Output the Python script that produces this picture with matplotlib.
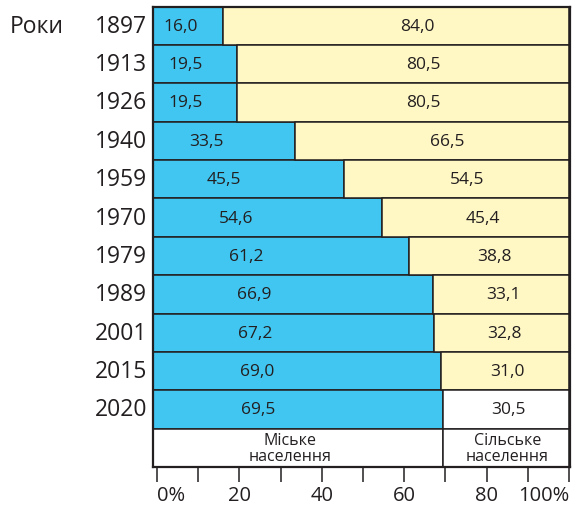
import matplotlib
matplotlib.use('Agg')
import matplotlib.pyplot as plt
import numpy as np

# дані: частка міського / сільського населення, %
years = ['1897', '1913', '1926', '1940', '1959', '1970', '1979', '1989', '2001', '2015', '2020']
urban = [16.0, 19.5, 19.5, 33.5, 45.5, 54.6, 61.2, 66.9, 67.2, 69.0, 69.5]
rural = [84.0, 80.5, 80.5, 66.5, 54.5, 45.4, 38.8, 33.1, 32.8, 31.0, 30.5]
legend_labels = ['Міське\nнаселення', 'Сільське\nнаселення']
x_major = [0, 20, 40, 60, 80, 100]
x_major_labels = ['0%', '20', '40', '60', '80', '100%']
x_minor = [10, 30, 50, 70, 90]

plt.rcParams['font.family'] = ['Open Sans', 'DejaVu Sans']

BLUE = '#40C6F1'
YELLOW = '#FFF7C4'
DARK = '#231F20'
XMIN, XMAX = -0.97, 100.24

fig = plt.figure(figsize=(5.74, 5.06), dpi=100)
ax = fig.add_axes([153 / 574, 38 / 506, 417 / 574, 460.5 / 506])

n = len(years)
ypos = np.arange(n) + 0.5
rural_colors = [YELLOW] * (n - 1) + ['white']

# смуги починаються від лівого краю рамки
urban_w = [u - XMIN for u in urban]
ax.barh(ypos, urban_w, height=1.0, left=XMIN, color=BLUE, edgecolor=DARK, linewidth=1.1)
ax.barh(ypos, rural, height=1.0, left=urban, color=rural_colors, edgecolor=DARK, linewidth=1.1)

# рядок-легенда внизу
leg_y = n + 0.5
ax.barh([leg_y, leg_y], [urban[-1] - XMIN, 100 - urban[-1]], left=[XMIN, urban[-1]],
        height=1.0, color='white', edgecolor=DARK, linewidth=1.1)
ax.text(32.3, leg_y, legend_labels[0], ha='center', va='center', fontsize=11.5,
        color=DARK, linespacing=1.0)
ax.text(85.0, leg_y, legend_labels[1], ha='center', va='center', fontsize=11.5,
        color=DARK, linespacing=1.0)

# підписи значень
for y, u, r in zip(ypos, urban, rural):
    ax.text(0.35 * u + 0.2, y, f'{u:.1f}'.replace('.', ','), ha='center', va='center',
            fontsize=12.5, color=DARK)
    ax.text(97.7 - 0.41 * r, y, f'{r:.1f}'.replace('.', ','), ha='center', va='center',
            fontsize=12.5, color=DARK)

# роки зліва
for y, yr in zip(ypos, years):
    ax.text(-2.4, y, yr, ha='right', va='center', fontsize=16.5, color=DARK)
ax.text(-35.8, ypos[0], 'Роки', ha='left', va='center', fontsize=16.5, color=DARK)

ax.set_xlim(XMIN, XMAX)
ax.set_ylim(n + 1, 0)
ax.set_yticks([])

ax.set_xticks(x_major)
ax.set_xticklabels(x_major_labels, fontsize=14.5, color=DARK)
ax.set_xticks(x_minor, minor=True)
ax.tick_params(axis='x', which='both', direction='out', length=11, width=1.1,
               color=DARK, pad=2)
labels = ax.get_xticklabels()
labels[0].set_horizontalalignment('left')
labels[-1].set_horizontalalignment('right')

for side in ['left', 'right', 'top', 'bottom']:
    ax.spines[side].set_linewidth(1.6)
    ax.spines[side].set_color(DARK)

fig.savefig('out.png', dpi=100)
